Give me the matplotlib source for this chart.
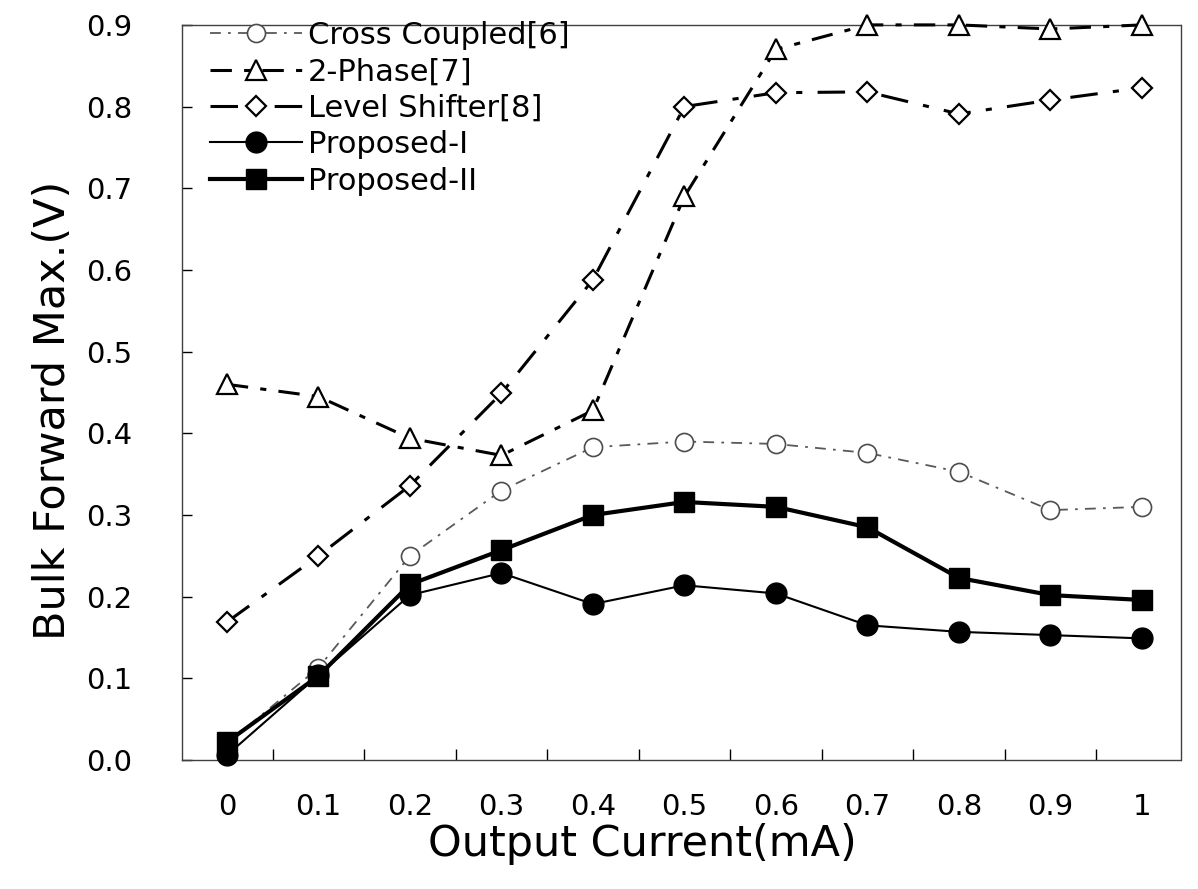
import numpy as np
import matplotlib.pyplot as plt

plt.rcParams['font.family'] = ['DejaVu Sans']

# Output current (mA)
current = [0, 0.1, 0.2, 0.3, 0.4, 0.5, 0.6, 0.7, 0.8, 0.9, 1.0]
x_labels = ['0', '0.1', '0.2', '0.3', '0.4', '0.5', '0.6', '0.7', '0.8', '0.9', '1']

# Bulk forward max (V) per scheme
cross_coupled = [0.02, 0.113, 0.25, 0.33, 0.383, 0.39, 0.387, 0.376, 0.353, 0.306, 0.31]
two_phase = [0.46, 0.445, 0.394, 0.373, 0.428, 0.69, 0.87, 0.90, 0.90, 0.895, 0.90]
level_shifter = [0.169, 0.25, 0.336, 0.449, 0.588, 0.80, 0.817, 0.818, 0.791, 0.808, 0.823]
proposed_1 = [0.006, 0.104, 0.202, 0.229, 0.191, 0.214, 0.204, 0.165, 0.157, 0.153, 0.149]
proposed_2 = [0.022, 0.103, 0.215, 0.257, 0.30, 0.316, 0.31, 0.285, 0.223, 0.202, 0.196]

fig = plt.figure(figsize=(11.98, 8.89), dpi=100)
ax = fig.add_axes([0.152, 0.145, 0.834, 0.827])

ax.plot(current, cross_coupled, color='0.35', lw=1.3, ls=(0, (6, 4, 1.5, 4)),
        marker='o', ms=13, mfc='white', mec='0.3', mew=1.2, label='Cross Coupled[6]',
        clip_on=False, zorder=3)
ax.plot(current, two_phase, color='black', lw=2.2, ls=(0, (7, 4, 2, 4)),
        marker='^', ms=15, mfc='white', mec='black', mew=1.6, label='2-Phase[7]',
        clip_on=False, zorder=3)
ax.plot(current, level_shifter, color='black', lw=2.2, ls=(0, (9, 5, 2, 5)),
        marker='D', ms=10, mfc='white', mec='black', mew=1.6, label='Level Shifter[8]',
        clip_on=False, zorder=3)
ax.plot(current, proposed_1, color='black', lw=1.5, ls='-',
        marker='o', ms=15, mfc='black', mec='black', label='Proposed-I',
        clip_on=False, zorder=4)
ax.plot(current, proposed_2, color='black', lw=3, ls='-',
        marker='s', ms=15, mfc='black', mec='black', label='Proposed-II',
        clip_on=False, zorder=4)

ax.set_xlim(-0.049, 1.043)
ax.set_ylim(0, 0.9)

ax.set_xticks(current)
ax.set_xticklabels(x_labels)
ax.set_xticks(np.arange(0.05, 1.0, 0.1), minor=True)
ax.tick_params(axis='x', which='major', length=0, pad=24, labelsize=21)
ax.tick_params(axis='x', which='minor', direction='in', length=8, width=1)
ax.set_yticks(np.arange(0, 0.91, 0.1))
ax.set_yticklabels([f'{v:.1f}' for v in np.arange(0, 0.91, 0.1)])
ax.tick_params(axis='y', which='major', direction='in', length=7, width=1, pad=36, labelsize=21)

for s in ax.spines.values():
    s.set_linewidth(1.0)
    s.set_color('0.25')
    s.set_linestyle((0, (2, 1)))

ax.set_xlabel('Output Current(mA)', fontsize=31)
ax.set_ylabel('Bulk Forward Max.(V)', fontsize=31)
ax.xaxis.set_label_coords(0.461, -0.085)
ax.yaxis.set_label_coords(-0.108, 0.476)

ax.legend(loc='upper left', bbox_to_anchor=(0.01, 1.03), frameon=False,
          prop={'size': 22}, handlelength=3.0, handletextpad=0.2,
          labelspacing=0.24, borderaxespad=0.2)

fig.savefig('out.png', dpi=100)
